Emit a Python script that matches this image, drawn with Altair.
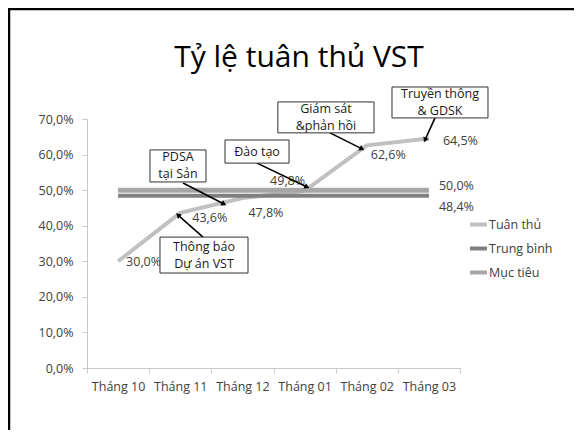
import json
import math
import altair as alt
import pandas as pd

# ---------------- data ----------------
months = ["Tháng 10", "Tháng 11", "Tháng 12", "Tháng 01", "Tháng 02", "Tháng 03"]
month_idx = [0, 1, 2, 3, 4, 5]
tuan_thu = [0.300, 0.436, 0.478, 0.498, 0.626, 0.645]
trung_binh = [0.484, 0.484, 0.484, 0.484, 0.484, 0.484]
muc_tieu = [0.500, 0.500, 0.500, 0.500, 0.500, 0.500]
series_names = ["Tuân thủ", "Trung bình", "Mục tiêu"]
y_ticks = [0.0, 0.1, 0.2, 0.3, 0.4, 0.5, 0.6, 0.7]
x_ticks = [-0.5, 0, 0.5, 1, 1.5, 2, 2.5, 3, 3.5, 4, 4.5, 5, 5.5]
title_text = "Tỷ lệ tuân thủ VST"

# annotation callouts (data coordinates: month index, share)
ann_text = ["PDSA\ntại Sản", "Đào tạo", "Thông báo\nDự án VST", "Giám sát\n&phản hồi", "Truyền thông\n& GDSK"]
ann_x1 = [0.513, 1.72, 0.674, 2.57, 4.406]
ann_x2 = [1.414, 2.75, 2.09, 4.117, 5.95]
ann_y1 = [0.613, 0.641, 0.368, 0.748, 0.790]
ann_y2 = [0.523, 0.576, 0.267, 0.661, 0.703]
arr_x1 = [1.044, 2.235, 1.366, 3.409, 5.098]
arr_y1 = [0.520, 0.576, 0.368, 0.661, 0.703]
arr_x2 = [1.704, 3.039, 0.964, 3.924, 4.937]
arr_y2 = [0.461, 0.509, 0.430, 0.616, 0.641]

# ---------------- style ----------------
FONT = "Open Sans"
W, H = 373, 249
colors = ["#c0c0c0", "#808080", "#a6a6a6"]
widths = [4, 4, 5]
label_color = "#404040"
LINE_H = 17
# per-label offsets (dx, dy, align) for Tuân thủ labels
tt_label_style = [(8, 1, "left"), (12, 5, "left"), (6, 15, "left"),
                  (-17, -10, "center"), (4, 10, "left"), (14, 2, "left")]
end_label_style = {"Mục tiêu": (10, -4), "Trung bình": (10, 11)}

px_per_x = W / 6.0
px_per_y = H / 0.7

# ---------------- frames ----------------
rows = []
for name, vals in zip(series_names, [tuan_thu, trung_binh, muc_tieu]):
    for i, v in zip(month_idx, vals):
        rows.append({"series": name, "x": i, "y": v})
df = pd.DataFrame(rows)

ann_df = pd.DataFrame({
    "text": ann_text, "x1": ann_x1, "x2": ann_x2, "y1": ann_y1, "y2": ann_y2,
})
ann_df["cx"] = (ann_df["x1"] + ann_df["x2"]) / 2
ann_df["cy"] = (ann_df["y1"] + ann_df["y2"]) / 2
ann_df["lines"] = [t.count("\n") + 1 for t in ann_text]

arr_df = pd.DataFrame({"x1": arr_x1, "y1": arr_y1, "x2": arr_x2, "y2": arr_y2})
arr_df["angle"] = [
    (math.degrees(math.atan2((b - a) * px_per_x, (d - c) * px_per_y)) + 360) % 360
    for a, b, c, d in zip(arr_x1, arr_x2, arr_y1, arr_y2)
]

x_scale = alt.Scale(domain=[-0.5, 5.5], nice=False, zero=False)
y_scale = alt.Scale(domain=[0, 0.7], nice=False, zero=False)

month_arr = json.dumps(months, ensure_ascii=False)
x_axis = alt.Axis(
    values=x_ticks,
    labelExpr=f"datum.value % 1 === 0 && datum.value >= 0 ? {month_arr}[datum.value] : ''",
    tickOpacity={"condition": {"test": "datum.value % 1 === 0", "value": 0}, "value": 1},
    title=None, grid=False, domainColor="#c8c8c8", tickColor="#c8c8c8",
    tickSize=5, labelPadding=7, labelFont=FONT, labelFontSize=12.5,
    labelColor=label_color, labelOverlap=False, labelFlush=False,
)
y_axis = alt.Axis(
    values=y_ticks,
    labelExpr="replace(format(datum.value, '.1%'), '.', ',')",
    title=None, grid=False, domainColor="#c8c8c8", tickColor="#c8c8c8",
    tickSize=5, labelPadding=9, labelFont=FONT, labelFontSize=12.5,
    labelColor=label_color,
)

X = alt.X("x:Q", scale=x_scale, axis=x_axis)
Y = alt.Y("y:Q", scale=y_scale, axis=y_axis)

color = alt.Color(
    "series:N",
    scale=alt.Scale(domain=series_names, range=colors),
    sort=series_names,
    legend=alt.Legend(
        title=None, orient="none", legendX=381, legendY=95,
        symbolType="stroke", symbolSize=289, symbolStrokeWidth=4,
        labelFont=FONT, labelFontSize=12.5, labelColor=label_color,
        labelOffset=0, rowPadding=5, padding=0,
    ),
)

base = alt.Chart(df)
line_layers = [
    base.transform_filter(alt.datum.series == name)
    .mark_line(strokeWidth=w, strokeCap="butt")
    .encode(x=X, y=Y, color=color)
    for name, w in zip(series_names, widths)
]

label_layers = []
for i, (dx, dy, al) in zip(month_idx, tt_label_style):
    label_layers.append(
        base.transform_filter((alt.datum.series == "Tuân thủ") & (alt.datum.x == i))
        .transform_calculate(lbl="replace(format(datum.y, '.1%'), '.', ',')")
        .mark_text(dx=dx, dy=dy, align=al, baseline="middle", font=FONT,
                   fontSize=12.5, color=label_color)
        .encode(x=X, y=Y, text="lbl:N")
    )
for name, (dx, dy) in end_label_style.items():
    label_layers.append(
        base.transform_filter((alt.datum.series == name) & (alt.datum.x == 5))
        .transform_calculate(lbl="replace(format(datum.y, '.1%'), '.', ',')")
        .mark_text(dx=dx, dy=dy, align="left", baseline="middle", font=FONT,
                   fontSize=12.5, color=label_color)
        .encode(x=X, y=Y, text="lbl:N")
    )

ann = alt.Chart(ann_df)
boxes = ann.mark_rect(fill="white", stroke="#303030", strokeWidth=1).encode(
    x=alt.X("x1:Q", scale=x_scale, axis=x_axis), x2="x2:Q",
    y=alt.Y("y1:Q", scale=y_scale, axis=y_axis), y2="y2:Q",
)
text_layers = []
for n in (1, 2):
    text_layers.append(
        ann.transform_filter(alt.datum.lines == n)
        .mark_text(font=FONT, fontSize=12.5, color="#1a1a1a", lineBreak="\n",
                   lineHeight=LINE_H, baseline="middle", align="center",
                   dy=-(n - 1) * LINE_H / 2)
        .encode(
            x=alt.X("cx:Q", scale=x_scale, axis=x_axis),
            y=alt.Y("cy:Q", scale=y_scale, axis=y_axis),
            text="text:N",
        )
    )
arr = alt.Chart(arr_df)
arrow_lines = arr.mark_rule(color="black", strokeWidth=1.6).encode(
    x=alt.X("x1:Q", scale=x_scale, axis=x_axis), x2="x2:Q",
    y=alt.Y("y1:Q", scale=y_scale, axis=y_axis), y2="y2:Q",
)
arrow_heads = arr.mark_point(shape="triangle-up", filled=True, size=35, color="black",
                             opacity=1).encode(
    x=alt.X("x2:Q", scale=x_scale, axis=x_axis),
    y=alt.Y("y2:Q", scale=y_scale, axis=y_axis),
    angle=alt.Angle("angle:Q", scale=None),
)

one = pd.DataFrame({"t": [title_text]})
title = alt.Chart(one).mark_text(font=FONT, fontSize=30, color="black", align="center",
                                 baseline="alphabetic").encode(
    x=alt.value(212), y=alt.value(-52), text="t:N")
border_top = alt.Chart(one).mark_rule(color="black", strokeWidth=2.5).encode(
    x=alt.value(-78), x2=alt.value(487), y=alt.value(-110))
border_left = alt.Chart(one).mark_rule(color="black", strokeWidth=2.5).encode(
    x=alt.value(-78), y=alt.value(-111), y2=alt.value(311))

chart = alt.layer(
    *line_layers, *label_layers, arrow_lines, arrow_heads, boxes, *text_layers,
    title, border_top, border_left,
).properties(
    width=W, height=H,
    autosize=alt.AutoSizeParams(type="none"),
    padding={"left": 79, "top": 111, "right": 114, "bottom": 62},
    background="white",
).configure_view(stroke=None)

chart.save("out.html", embed_options={"renderer": "svg", "actions": False})
